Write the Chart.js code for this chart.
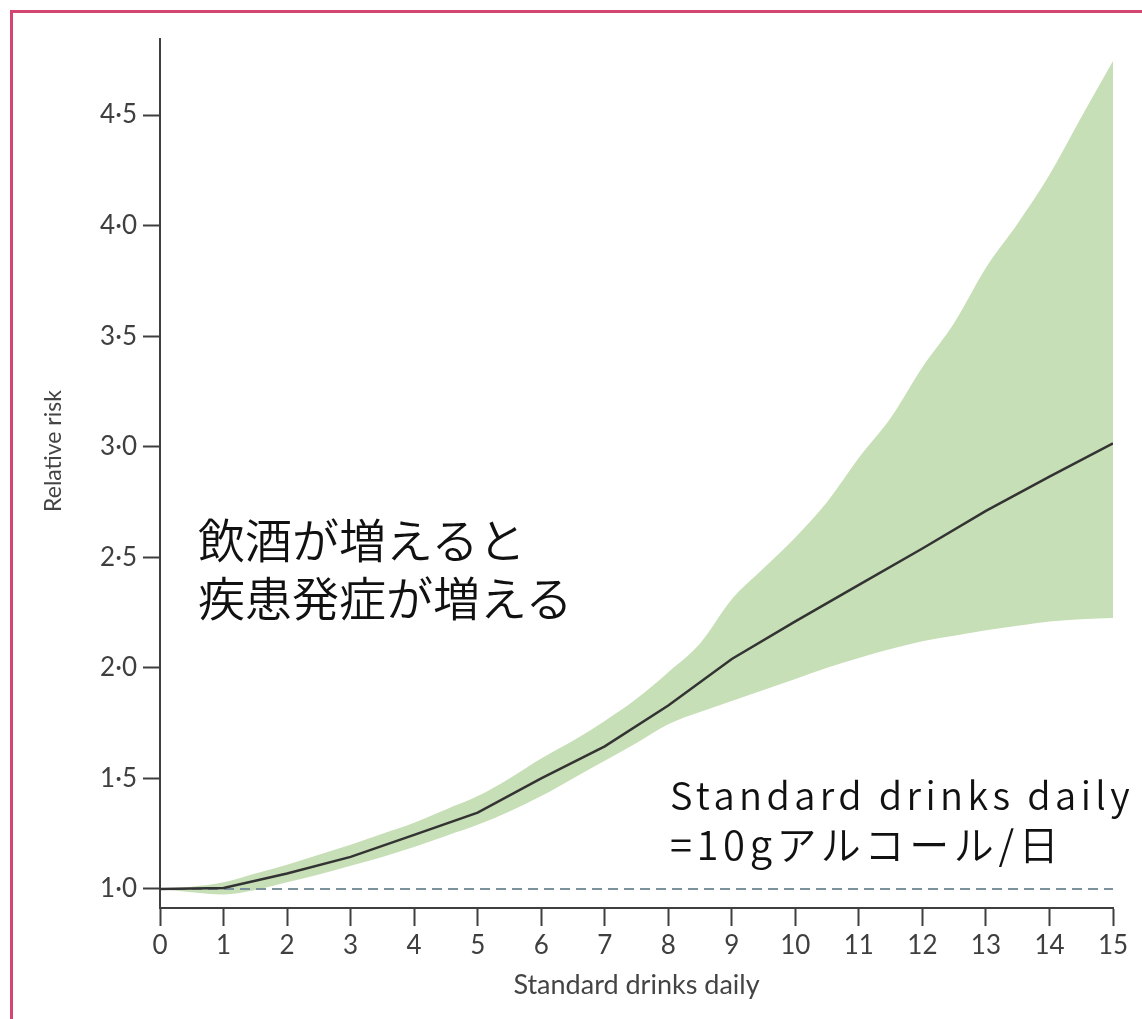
<!DOCTYPE html>
<html lang="ja">
<head>
<meta charset="utf-8">
<title>Relative risk by standard drinks daily</title>
<script src="https://cdn.jsdelivr.net/npm/chart.js@4/dist/chart.umd.min.js"></script>
<style>
  html, body { margin: 0; padding: 0; background: #fff; overflow: hidden; }
  #wrap { position: relative; width: 1142px; height: 1019px; overflow: hidden; }
  #frame {
    position: absolute; left: 10px; top: 10px; width: 1150px; height: 1030px;
    border: 3px solid #d2466f; box-sizing: border-box;
  }
  #chart { position: absolute; left: 0; top: 0; }
  .note { position: absolute; color: #111; font-family: "Noto Sans CJK JP", sans-serif; font-weight: 350; white-space: pre; }
  #note1 { left: 198px; top: 509px; font-size: 47px; line-height: 58px; }
  #note2a { left: 670px; top: 769px; font-size: 38px; line-height: 50px; letter-spacing: 4.4px; }
  #note2b { left: 670px; top: 818px; font-size: 40px; line-height: 50px; letter-spacing: 4.6px; }
</style>
</head>
<body>
<div id="wrap">
  <div id="frame"></div>
  <canvas id="chart" width="1142" height="1019"></canvas>
  <div class="note" id="note1">飲酒が増えると
疾患発症が増える</div>
  <div class="note" id="note2a">Standard drinks daily</div>
  <div class="note" id="note2b">=10gアルコール/日</div>
</div>
<script>
// Standard drinks per day (x) and relative risk estimates
const drinks = [0, 1, 2, 3, 4, 5, 6, 7, 8, 9, 10, 11, 12, 13, 14, 15];
const relativeRisk = [1.0, 1.005, 1.07, 1.145, 1.245, 1.345, 1.50, 1.645, 1.83, 2.04, 2.21, 2.375, 2.54, 2.71, 2.865, 3.015];

// 95% confidence band, sampled every half drink
const bandDrinks = [0, 0.5, 1, 1.5, 2, 2.5, 3, 3.5, 4, 4.5, 5, 5.5, 6, 6.5, 7, 7.5, 8, 8.5, 9, 9.5, 10, 10.5, 11, 11.5, 12, 12.5, 13, 13.5, 14, 14.5, 15];
const upperCI = [1.00, 1.01, 1.03, 1.07, 1.11, 1.155, 1.20, 1.25, 1.30, 1.36, 1.42, 1.50, 1.59, 1.67, 1.76, 1.86, 1.98, 2.11, 2.31, 2.45, 2.59, 2.75, 2.95, 3.13, 3.36, 3.56, 3.81, 4.01, 4.23, 4.49, 4.745];
const lowerCI = [1.00, 0.985, 0.975, 0.995, 1.03, 1.065, 1.105, 1.145, 1.19, 1.24, 1.29, 1.35, 1.42, 1.50, 1.58, 1.66, 1.745, 1.80, 1.85, 1.90, 1.95, 2.00, 2.045, 2.085, 2.12, 2.145, 2.17, 2.19, 2.21, 2.22, 2.225];

// Reference line at no excess risk
const referenceRisk = 1.0;

// Axis ticks
const xTickValues = [0, 1, 2, 3, 4, 5, 6, 7, 8, 9, 10, 11, 12, 13, 14, 15];
const xTickLabels = ['0', '1', '2', '3', '4', '5', '6', '7', '8', '9', '10', '11', '12', '13', '14', '15'];
const yTickValues = [1.0, 1.5, 2.0, 2.5, 3.0, 3.5, 4.0, 4.5];
const yTickLabels = ['1·0', '1·5', '2·0', '2·5', '3·0', '3·5', '4·0', '4·5'];

const xTitle = 'Standard drinks daily';
const yTitle = 'Relative risk';

const toPoints = (xs, ys) => xs.map((x, i) => ({ x: x, y: ys[i] }));

const axisColor = '#3f3f3f';
const tickFont = { family: 'Lato, "DejaVu Sans", sans-serif', size: 26, weight: 'normal' };

// Rotated y-axis title placed beside the tick labels
const yTitlePlugin = {
  id: 'yTitle',
  afterDraw(chart) {
    const ctx = chart.ctx;
    ctx.save();
    ctx.translate(54, 451);
    ctx.rotate(-Math.PI / 2);
    ctx.font = '23px Lato, "DejaVu Sans", sans-serif';
    ctx.fillStyle = '#444';
    ctx.textAlign = 'center';
    ctx.textBaseline = 'middle';
    ctx.fillText(yTitle, 0, 0);
    ctx.restore();
  }
};

new Chart(document.getElementById('chart'), {
  type: 'line',
  data: {
    datasets: [
      {
        label: 'Relative risk',
        data: toPoints(drinks, relativeRisk),
        borderColor: '#333333',
        borderWidth: 2.5,
        pointRadius: 0,
        fill: false,
        tension: 0
      },
      {
        label: 'Reference',
        data: toPoints([drinks[0], drinks[drinks.length - 1]], [referenceRisk, referenceRisk]),
        borderColor: '#7b919b',
        borderWidth: 2,
        borderDash: [10, 6],
        pointRadius: 0,
        fill: false
      },
      {
        label: 'Upper 95% CI',
        data: toPoints(bandDrinks, upperCI),
        borderWidth: 0,
        borderColor: 'rgba(0,0,0,0)',
        backgroundColor: '#c7dfb6',
        pointRadius: 0,
        fill: 3,
        cubicInterpolationMode: 'monotone'
      },
      {
        label: 'Lower 95% CI',
        data: toPoints(bandDrinks, lowerCI),
        borderWidth: 0,
        borderColor: 'rgba(0,0,0,0)',
        pointRadius: 0,
        fill: false,
        cubicInterpolationMode: 'monotone'
      }
    ]
  },
  options: {
    responsive: false,
    animation: false,
    events: [],
    layout: { padding: { left: 0, top: 39, right: 29, bottom: 0 } },
    plugins: {
      legend: { display: false },
      tooltip: { enabled: false }
    },
    scales: {
      x: {
        type: 'linear',
        min: 0,
        max: 15,
        afterBuildTicks(scale) { scale.ticks = xTickValues.map(v => ({ value: v })); },
        afterFit(scale) { scale.height = 111; },
        ticks: {
          callback: (v) => xTickLabels[xTickValues.indexOf(v)],
          color: axisColor,
          font: tickFont,
          padding: 4,
          maxRotation: 0,
          autoSkip: false
        },
        grid: {
          drawOnChartArea: false,
          drawTicks: true,
          tickLength: 18,
          tickColor: axisColor,
          tickWidth: 2
        },
        border: { display: true, color: axisColor, width: 2 },
        title: {
          display: true,
          text: xTitle,
          color: '#444',
          font: { family: 'Lato, "DejaVu Sans", sans-serif', size: 27 },
          padding: { top: 0, bottom: 18 }
        }
      },
      y: {
        type: 'linear',
        min: 0.914,
        max: 4.844,
        afterBuildTicks(scale) { scale.ticks = yTickValues.map(v => ({ value: v })); },
        afterFit(scale) { scale.width = 160; },
        ticks: {
          callback: (v) => yTickLabels[yTickValues.indexOf(v)],
          color: axisColor,
          font: tickFont,
          padding: 6
        },
        grid: {
          drawOnChartArea: false,
          drawTicks: true,
          tickLength: 17,
          tickColor: axisColor,
          tickWidth: 2
        },
        border: { display: true, color: axisColor, width: 2 }
      }
    }
  },
  plugins: [yTitlePlugin]
});
</script>
</body>
</html>
